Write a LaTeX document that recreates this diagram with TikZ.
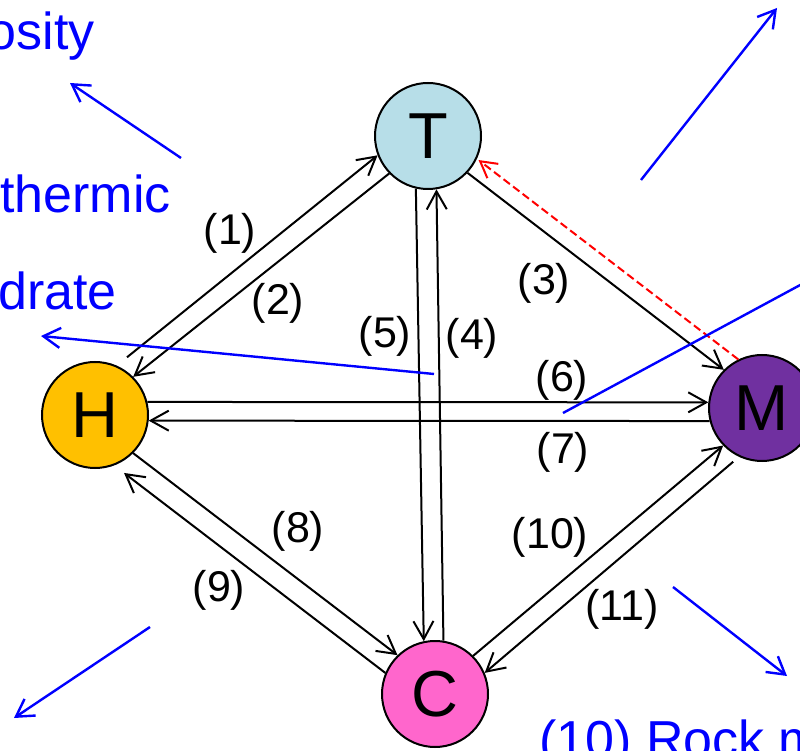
\documentclass[tikz,border=0pt]{standalone}
\usepackage{fontspec}
\setmainfont{Liberation Sans}
\usetikzlibrary{arrows.meta,calc}
\begin{document}
\begin{tikzpicture}[x=1pt,y=1pt,
  state/.style={circle,draw=black,line width=2pt,minimum size=106pt,inner sep=0pt,font=\fontsize{65}{70}\selectfont},
  flow/.style={draw=black,line width=2pt,-{Straight Barb[length=18pt,width=20pt]}},
  num/.style={font=\fontsize{43}{50}\selectfont,inner sep=0pt},
  note/.style={font=\fontsize{52}{60}\selectfont,text=blue,inner sep=0pt},
  ptr/.style={draw=blue,line width=2.4pt,-{Straight Barb[length=17pt,width=20pt]}},
  hint/.style={draw=red,line width=2pt,dash pattern=on 8pt off 4pt,-{Straight Barb[length=16pt,width=18pt]}}
]
\useasboundingbox (0,0) rectangle (800,750);
\definecolor{tcol}{RGB}{183,222,232}
\definecolor{hcol}{RGB}{255,192,0}
\definecolor{mcol}{RGB}{112,48,160}
\definecolor{ccol}{RGB}{255,102,204}

% blue side texts
\node[note,anchor=base east] (tporo) at (95,700) {osity};
\node[note,anchor=base west] (tgeo) at (0,537) {thermic};
\node[note,anchor=base west] (thyd) at (-2,440) {drate};
\node[note,anchor=base west] (trock) at (539,-7) {(10) Rock m};

% states
\node[state,fill=tcol] (T) at (428,614) {T};
\node[state,fill=hcol] (H) at (95,335) {H};
\node[state,fill=mcol] (M) at (762,342) {M};
\node[state,fill=ccol] (C) at (435,56) {C};

% connectors
\draw[flow] ($(H)+(61:66)$) -- (T.201.6);
\draw[flow] (T.224) -- (H.45);
\draw[flow] (T.-43.5) -- (M.135);
\draw[hint,shorten >=2pt] (M.116) -- (T.-25.7);
\draw[flow] (C.81.4) -- (T.-81.4);
\draw[flow] (T.257) -- (C.102.8);
\draw[flow] (H.14) -- (M.174);
\draw[flow] (M.194.6) -- (H.-6.5);
\draw[flow] (H.-45.7) -- (C.134.3);
\draw[flow] (C.157.6) -- ($(H)+(-63.4:64.8)$);
\draw[flow] (C.45.7) -- (M.224.3);
\draw[flow] ($(M)+(241.8:61)$) -- (C.23.7);

% labels
\node[num] (l1) at (230,517) {(1)};
\node[num] (l2) at (278,447) {(2)};
\node[num] (l3) at (544,467) {(3)};
\node[num] (l4) at (472,412) {(4)};
\node[num] (l5) at (385,414) {(5)};
\node[num] (l6) at (562,370) {(6)};
\node[num] (l7) at (563,298) {(7)};
\node[num] (l8) at (298,219) {(8)};
\node[num] (l9) at (219,160) {(9)};
\node[num] (l10) at (550,213) {(10)};
\node[num] (l11) at (622,141) {(11)};

% blue pointers
\coordinate (a1s) at (181,592); \coordinate (a1e) at (70,667);
\coordinate (a2s) at (641,570); \coordinate (a2e) at (777,742);
\coordinate (a3s) at (434,376); \coordinate (a3e) at (41,414);
\coordinate (a4s) at (563,337); \coordinate (a4e) at (815,473);
\coordinate (a5s) at (150,123); \coordinate (a5e) at (14,32);
\coordinate (a6s) at (673,163); \coordinate (a6e) at (787,74);
\draw[ptr] (a1s) -- (a1e);
\draw[ptr] (a2s) -- (a2e);
\draw[ptr] (a3s) -- (a3e);
\draw[draw=blue,line width=2.4pt] (a4s) -- (a4e);
\draw[ptr] (a5s) -- (a5e);
\draw[ptr] (a6s) -- (a6e);
\end{tikzpicture}
\end{document}
